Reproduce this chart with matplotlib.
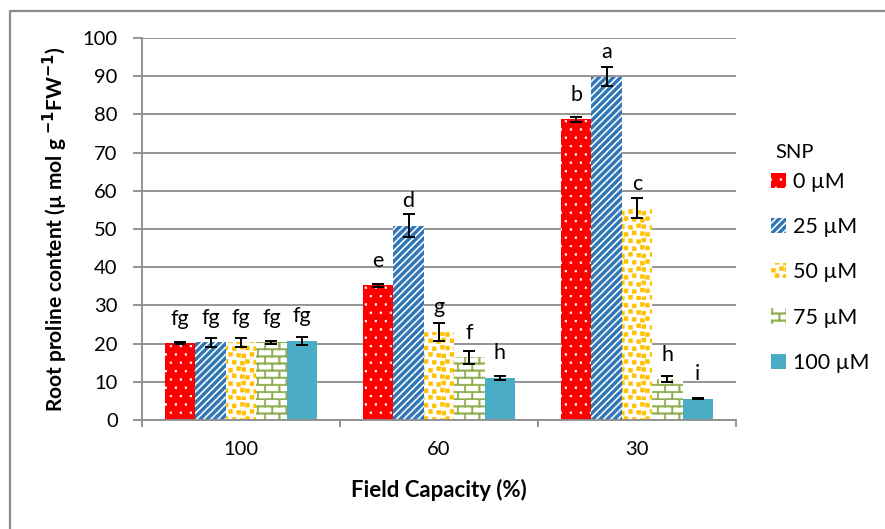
import numpy as np
import matplotlib.pyplot as plt
from matplotlib import hatch as mhatch
from matplotlib.path import Path

plt.rcParams['font.family'] = ['Lato', 'DejaVu Sans']
plt.rcParams['hatch.linewidth'] = 0.3

# data
capacity = ['100', '60', '30']
snp = ['0 µM', '25 µM', '50 µM', '75 µM', '100 µM']
proline = [
    [20.1, 20.3, 20.3, 20.3, 20.7],   # 100 %
    [35.3, 50.9, 23.1, 16.4, 11.1],   # 60 %
    [78.7, 89.9, 55.4, 10.7, 5.6],    # 30 %
]
errors = [
    [0.3, 1.2, 1.2, 0.3, 1.0],
    [0.4, 3.1, 2.3, 1.7, 0.5],
    [0.6, 2.4, 2.6, 0.8, 0.2],
]
letters = [
    ['fg', 'fg', 'fg', 'fg', 'fg'],
    ['e', 'd', 'g', 'f', 'h'],
    ['b', 'a', 'c', 'h', 'i'],
]


# Excel-like fill patterns, built as filled polygons in the 1x1 hatch tile
def rect(x0, y0, w, h):
    return np.array([[x0, y0], [x0 + w, y0], [x0 + w, y0 + h], [x0, y0 + h]])


class PolyHatch(mhatch.HatchPatternBase):
    char = None

    def __init__(self, hatch, density):
        self.polys = self.make_polys() if self.char in hatch else []
        self.num_vertices = 5 * len(self.polys)

    def set_vertices_and_codes(self, vertices, codes):
        for k, p in enumerate(self.polys):
            vertices[5*k:5*k+4] = p
            vertices[5*k+4] = p[0]
            codes[5*k] = Path.MOVETO
            codes[5*k+1:5*k+4] = Path.LINETO
            codes[5*k+4] = Path.CLOSEPOLY


class SmallDots(PolyHatch):
    char = '.'

    def make_polys(self):
        out = []
        for r in range(12):
            for c in range(10):
                x = c / 10 + (0.05 if r % 2 else 0)
                out.append(rect(x, r / 12 + 0.03, 0.018, 0.018))
        return out


class Squares(PolyHatch):
    char = 'o'

    def make_polys(self):
        out = []
        for r in range(14):
            for c in range(14):
                x = c / 14 + (0.036 if r % 2 else 0) + 0.01 * ((r * 3 + c) % 3 - 1)
                y = r / 14 + 0.008 * ((c * 2 + r) % 3 - 1)
                out.append(rect(x, y, 0.04, 0.04))
        return out


class Stripes(PolyHatch):
    char = '/'

    def make_polys(self):
        out = []
        n = 14
        w = 0.42 / n
        for k in range(-n - 1, n + 1):
            c = k / n
            out.append(np.array([[-0.2, -0.2 + c], [-0.2, -0.2 + c + w * 1.41],
                                 [1.2, 1.2 + c + w * 1.41], [1.2, 1.2 + c]]))
        return out


class Bricks(PolyHatch):
    char = '+'

    def make_polys(self):
        out = []
        rows = 14
        t = 0.016
        for r in range(rows):
            y = r / rows
            out.append(rect(-0.05, y, 1.1, t))
            for c in range(8):
                x = c / 7 + (0.5 / 7 if r % 2 else 0)
                out.append(rect(x, y, t, 1 / rows))
        return out


mhatch._hatch_types = [SmallDots, Squares, Stripes, Bricks]

# fill styles: face, pattern colour, pattern
styles = [
    ('#FF0000', 'white', '.'),
    ('white', '#2E75B6', '/'),
    ('white', '#FFC000', 'o'),
    ('white', '#8FAE4F', '+'),
    ('#4BACC6', '#4BACC6', ''),
]

vals = np.array(proline)
errs = np.array(errors)

fig = plt.figure(figsize=(8.85, 5.29), dpi=100)
ax = fig.add_axes([142/885, 1-420/529, (736-142)/885, (420-38)/529])

# outer chart frame (top and left edges visible)
fig.add_artist(plt.Line2D([9.5/885, 9.5/885, 884/885], [0, 1-10.5/529, 1-10.5/529],
                          transform=fig.transFigure, color='#8c8c8c', linewidth=1.6))

x = np.arange(len(capacity))
w = 0.1535
handles = []
for i in range(len(snp)):
    face, hc, hatch = styles[i]
    pos = x + (i - 2) * w
    bars = ax.bar(pos, vals[:, i], width=w, facecolor=face, edgecolor=hc, hatch=hatch,
                  linewidth=0, zorder=2, label=snp[i])
    ax.errorbar(pos, vals[:, i], yerr=errs[:, i], fmt='none', ecolor='black', elinewidth=1.4,
                capsize=4.5, capthick=1.4, zorder=3)
    for j in range(len(capacity)):
        ax.annotate(letters[j][i], (pos[j], vals[j, i]), xytext=(0, 13.3),
                    textcoords='offset points', ha='center', va='baseline', fontsize=15.5)
    handles.append(bars)

ax.set_xlim(-0.5, 2.5)
ax.set_ylim(0, 100)
ax.set_yticks(np.arange(0, 101, 10))
ax.set_xticks(x)
ax.set_xticklabels(capacity)
ax.set_xticks([-0.5, 0.5, 1.5, 2.5], minor=True)
ax.tick_params(axis='x', which='major', length=0, pad=15, labelsize=14.5)
ax.tick_params(axis='x', which='minor', length=5, color='#8c8c8c', width=1.3)
ax.tick_params(axis='y', length=6.5, color='#8c8c8c', width=1.3, labelsize=14.5, pad=11)
ax.grid(axis='y', color='#8c8c8c', linewidth=1.3, zorder=0)
ax.set_axisbelow(True)
for s in ['top', 'right']:
    ax.spines[s].set_visible(False)
for s in ['left', 'bottom']:
    ax.spines[s].set_color('#8c8c8c')
    ax.spines[s].set_linewidth(1.3)

ax.set_xlabel('Field Capacity (%)', fontsize=16, fontweight='bold', labelpad=15)
ax.set_ylabel('Root proline content (µ mol g $^{\\mathbf{-1}}$FW$^{\\mathbf{-1}}$)', fontsize=15,
              fontweight='bold')
ax.yaxis.set_label_coords(-0.121, 0.5)

fig.text(775/885, 1-153/529, 'SNP', fontsize=14.5, ha='left', va='center')
fig.legend(handles=handles, labels=snp, loc='upper left',
           bbox_to_anchor=(771/885, 1-172/529), frameon=False, fontsize=15.5,
           labelspacing=1.17, handlelength=0.7, handleheight=0.7,
           handletextpad=0.3, borderpad=0, borderaxespad=0)

fig.savefig('out.png', dpi=100)
